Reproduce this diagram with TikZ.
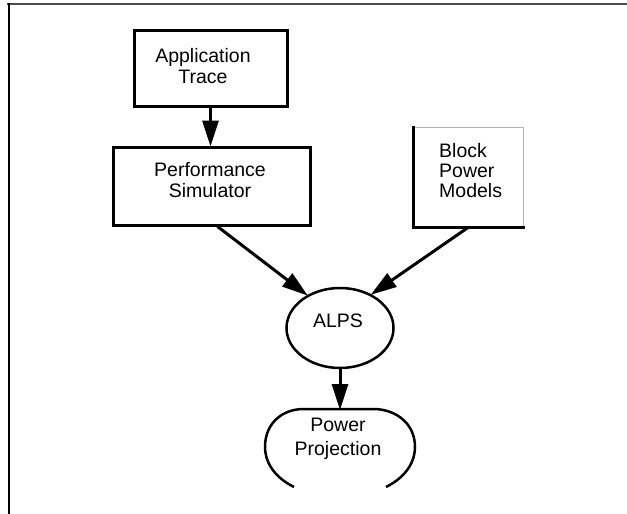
\documentclass[tikz,border=0pt]{standalone}
\usepackage{fontspec}
\setmainfont{Liberation Sans}
\usetikzlibrary{arrows.meta,shapes.geometric}
\begin{document}
\begin{tikzpicture}[x=1pt,y=-1pt,
  txt/.style={font=\fontsize{19.5}{21.5}\selectfont, align=center, inner sep=0pt},
  blk/.style={draw=black, line width=3pt, minimum width=#1, inner sep=0pt},
  conn/.style={line width=3pt, -{Triangle[length=26pt,width=16pt]}, shorten >=-1pt}
]
\useasboundingbox (0,0) rectangle (627,514);
% frame
\draw[draw=black!70, line width=2pt] (7,3.5) -- (627,3.5);
\draw[draw=black, line width=2pt] (8.5,3) -- (8.5,514);

% Application Trace
\node[blk=153pt, minimum height=76pt] (app) at (210.5,68) {};
\node[txt] (apptxt) at (203,66) {Application\\Trace};

% Performance Simulator
\node[blk=197pt, minimum height=78pt] (perf) at (211.5,186) {};
\node[txt] (perftxt) at (210,180) {Performance\\Simulator};

% Block Power Models
\node[minimum width=109pt, minimum height=99pt, inner sep=0pt] (block) at (468.5,177.5) {};
\draw[draw=black!30, line width=1pt] (block.south east) -- (block.north east) -- (block.north west);
\draw[line width=3pt, line cap=rect] (block.north west) -- (block.south west) -- (block.south east);
\node[txt, align=left, anchor=north west, font=\fontsize{19.5}{20}\selectfont] (blocktxt) at (439,143) {Block\\Power\\Models};

% ALPS
\node[draw, ellipse, line width=2.5pt, minimum width=107pt, minimum height=80pt, inner sep=0pt] (alps) at (340,328) {};
\node[txt] (alpstxt) at (338,321) {ALPS};

% Power Projection (bottom open)
\coordinate (pptop) at (340,409);
\draw[line width=2.5pt] (294,487) .. controls (272,476) and (265,460) .. (265,447)
  .. controls (265,425) and (280,410) .. (302,409) -- (375,409)
  .. controls (398,410) and (415,425) .. (415,447)
  .. controls (415,460) and (408,476) .. (386,487);
\node[txt, font=\fontsize{19.5}{24}\selectfont] (pptxt) at (338,439) {Power\\Projection};

% connectors
\draw[conn] (app.south) -- (app.south |- perf.north);
\draw[conn] ([xshift=6pt]perf.south) -- (alps.135);
\draw[conn] (block.south) -- (alps.47);
\draw[conn] (alps.south) -- (pptop);
\end{tikzpicture}
\end{document}
